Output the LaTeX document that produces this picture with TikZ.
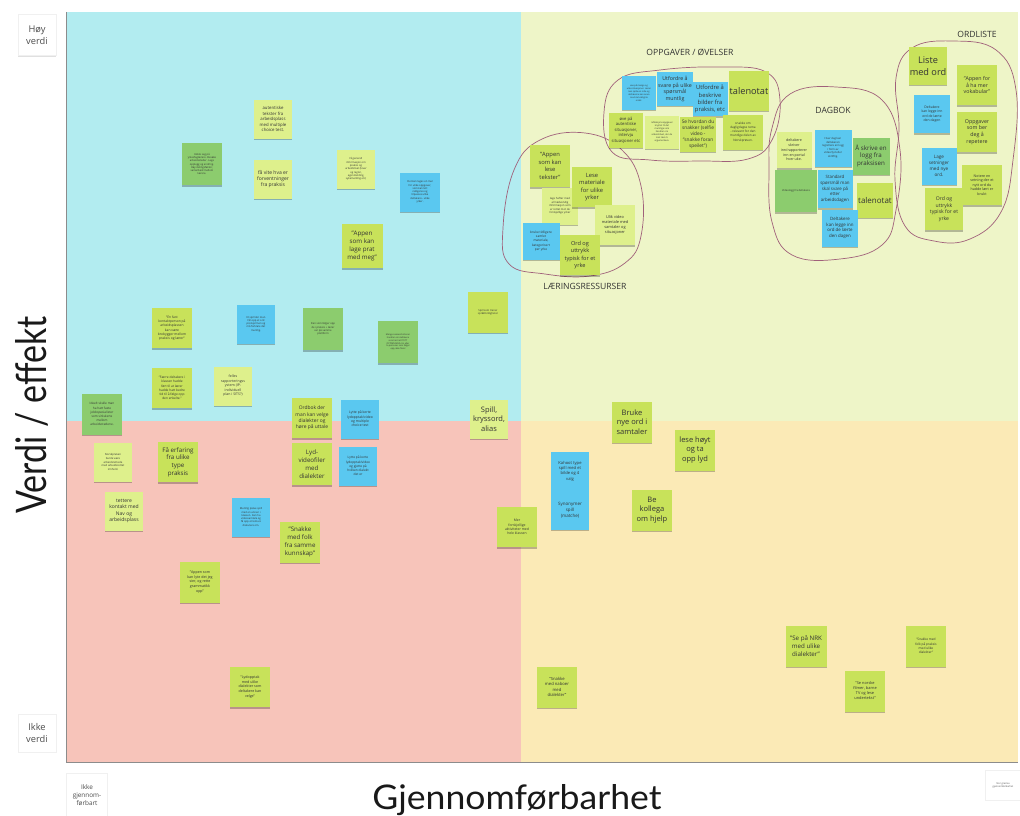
\documentclass[tikz,border=0pt]{standalone}
\usepackage{fontspec}
\usepackage{graphicx}
\setmainfont{Open Sans}
\newfontfamily\axisfont{Lato}
\usetikzlibrary{shadows}
\definecolor{qTL}{HTML}{B2ECF0}
\definecolor{qTR}{HTML}{EEF5C8}
\definecolor{qBL}{HTML}{F7C4BA}
\definecolor{qBR}{HTML}{FBEAB6}
\definecolor{cLime}{HTML}{C8E25A}
\definecolor{cPale}{HTML}{DEF08C}
\definecolor{cGreen}{HTML}{8CCC6E}
\definecolor{cBlue}{HTML}{5AC8F0}
\definecolor{cBlob}{HTML}{A0607A}
\definecolor{cInk}{HTML}{333333}
\tikzset{
  note/.style={rectangle, fill=#1, minimum width=38, minimum height=39,
    inner sep=1, align=center, text=cInk,
    drop shadow={shadow xshift=0pt, shadow yshift=-1.8pt, opacity=.25, fill=black}},
  lime/.style={note=cLime}, pale/.style={note=cPale},
  grn/.style={note=cGreen}, blu/.style={note=cBlue},
  fz/.style 2 args={font=\fontsize{#1}{#2}\selectfont},
  ft/.style={fz={2.6}{3.3}}, fs/.style={fz={3.4}{4.3}},
  fm/.style={fz={4.6}{5.9}}, fb/.style={fz={6.2}{7.8}},
  fl/.style={fz={7.5}{9.4}}, fx/.style={fz={9.2}{11.5}},
  sz/.style 2 args={minimum width=#1, minimum height=#2},
  blob/.style={draw=cBlob, line width=0.7pt},
  title/.style={font=\fontsize{8.6}{10}\selectfont, text=cInk},
  corner/.style={fill=white, draw=black!6, align=center, text=black!70, inner sep=1,
    drop shadow={shadow xshift=0pt, shadow yshift=-1.2pt, opacity=.12, fill=black}}
}
\begin{document}
\begin{tikzpicture}[x=1pt, y=-1pt]
\useasboundingbox (0,0) rectangle (1020,816);
\fill[white] (0,0) rectangle (1020,816);
% quadrants
\fill[qTL] (66,12) rectangle (521,421);
\fill[qTR] (521,12) rectangle (1018,421);
\fill[qBL] (66,421) rectangle (521,762);
\fill[qBR] (521,421) rectangle (1018,762);
\draw[black!45, line width=0.6pt] (66,12) -- (66,762) -- (1018,762);

% axis titles
\node[rotate=90, text=black!90] (yaxis) at (32,415) {\axisfont\resizebox{197pt}{31pt}{Verdi / effekt}};
\node[anchor=base, text=black!90] (xaxis) at (517,809) {\axisfont\resizebox{289pt}{25pt}{Gjennomførbarhet}};

% corner labels
\node[corner, sz={38}{41}, fz={9.3}{11.6}] (hoy) at (37,35) {Høy\\verdi};
\node[corner, sz={38}{38}, fz={9.3}{11.6}] (ikke) at (37,733) {Ikke\\verdi};
\node[corner, sz={41}{43}, fz={6.4}{8}] (ikkeg) at (87,795) {Ikke\\gjennom-\\førbart};
\node[corner, sz={35}{30}, fz={2.4}{3}] (stor) at (1003,785) {Stor grad av\\gjennomførbarhet};

% blobs around groups
\draw[blob] plot[smooth cycle, tension=0.7] coordinates {(604,112) (618,80) (660,70) (720,67) (766,72) (780,100) (772,140) (748,159) (700,161) (650,160) (612,152)};
\draw[blob] plot[smooth cycle, tension=0.7] coordinates {(772,128) (790,94) (836,87) (882,100) (900,150) (896,210) (882,245) (840,259) (792,255) (772,222) (769,170)};
\draw[blob] plot[smooth cycle, tension=0.7] coordinates {(896,78) (912,48) (952,41) (996,50) (1016,90) (1013,160) (1001,212) (970,239) (934,241) (905,226) (895,180) (899,128)};
\draw[blob] plot[smooth cycle, tension=0.7] coordinates {(503,228) (514,170) (540,140) (585,133) (622,150) (641,186) (641,236) (625,263) (590,276) (545,274) (509,264)};

% group titles
\node[title] (tOpp) at (690,52) {OPPGAVER / ØVELSER};
\node[title] (tDag) at (833,110) {DAGBOK};
\node[title] (tOrd) at (977,34) {ORDLISTE};
\node[title] (tLaer) at (585,286) {LÆRINGSRESSURSER};

% ---- high value, low feasibility
\node[grn, ft, sz={40}{42}] (koble) at (202,164) {Koble seg på\\yrkesfaglærere. Besøke\\arbeidssteder. Lage\\opplegg og endring.\\Høy delingsfaktor,\\samarbeid mellom\\lærere.};
\node[pale, fz={4.3}{5.5}] (autentiske) at (273,119) {autentiske\\tekster fra\\arbeidsplass\\med multiple\\choice test.};
\node[pale, fz={5}{6.4}] (favite) at (273,179) {få vite hva er\\forventninger\\fra praksis};
\node[pale, ft] (generell) at (356,169) {få generell\\informasjon om\\praksis og\\arbeidslivet (lover\\og regler,\\egenmelding,\\sykemelding etc)};
\node[blu, ft, sz={40}{39}] (mal) at (420,192) {Det kan lages en mal\\for ulike oppgaver,\\som kan lett\\redigeres og\\tilpasses ulike\\deltakere - ulike\\yrker.};
\node[lime, fb, sz={41}{44}] (prat) at (362,246) {"Appen\\som kan\\lage prat\\med meg"};
\node[lime, fz={3.3}{4.3}, sz={40}{40}] (kontakt) at (172,328) {"En fast\\kontaktperson på\\arbeidsplassen\\kan være\\brobygger mellom\\praksis og lærer"};
\node[blu, ft] (etspill) at (256,324) {Et spill der man\\får opp et ord\\på skjermen og\\må forklare det\\muntlig.};
\node[grn, ft, sz={40}{42}] (densom) at (323,329) {Den som følger opp\\de i praksis + lærer\\var på samme\\plattform};
\node[grn, fz={2.2}{2.9}, sz={40}{42}] (mange) at (398,342) {Mange suksesshistorier\\handler om deltakere\\som har hatt TETT\\OPPFØLGING. En eller\\to personer som følger\\opp, ikke flere!};
\node[lime, ft, sz={40}{41}] (trener) at (488,312) {Spill som trener\\språkferdigheter};
\node[lime, fz={3.2}{4.2}, sz={40}{40}] (faerre) at (172,388) {"Færre deltakere i\\klassen hadde\\ført til at lærer\\hadde hatt bedre\\tid til å følge opp\\den enkelte."};
\node[pale, fz={3.5}{4.5}] (felles) at (233,386) {felles\\rapporteringss\\ystem (IP-\\individuell\\plan i SITS?)};
\node[grn, fz={3.1}{4.1}, sz={40}{41}] (ideelt) at (102,414) {Ideelt skulle man\\ha hatt faste\\jobbspesialister\\som sirkulerte\\mellom\\arbeidsstedene.};
\node[lime, fz={4.9}{6.2}, sz={40}{40}] (ordbok) at (312,418) {Ordbok der\\man kan velge\\dialekter og\\høre på uttale};
\node[blu, fs] (lyttemc) at (360,419) {Lytte på korte\\lydopptak/video\\og multiple\\choice test};
\node[pale, fl] (kryssord) at (489,419) {Spill,\\kryssord,\\alias};

% ---- low value, low feasibility
\node[pale, fz={2.7}{3.6}] (norskprove) at (113,462) {Norskprøven\\burde være\\arbeidsrettede\\med arbeidsrettet\\innhold.};
\node[lime, fb, sz={40}{40}] (erfaring) at (178,462) {Få erfaring\\fra ulike\\type\\praksis};
\node[pale, fz={5}{6.4}] (tettere) at (124,511) {tettere\\kontakt med\\Nav og\\arbeidsplass};
\node[lime, fb, sz={40}{42}] (lydvideo) at (312,464) {Lyd-\\videofiler\\med\\dialekter};
\node[blu, fz={3.2}{4.2}] (lyttedia) at (358,466) {Lytte på korte\\lydopptak/video\\og gjette på\\hvilken dialekt\\det er};
\node[blu, ft] (muntlig) at (251,517) {Muntlig prøve spill\\med en annen i\\klassen. Kan ha\\videosamtale og\\få opp et tema å\\diskutere om.};
\node[lime, fb, sz={40}{41}] (snakkefolk) at (300,542) {"Snakke\\med folk\\fra samme\\kunnskap"};
\node[lime, fz={3.6}{4.6}, sz={40}{41}] (appenlyte) at (200,582) {"Appen som\\kan lyte det jeg\\sier, og rette\\grammatikk\\opp"};
\node[lime, fz={3.6}{4.6}, sz={40}{40}] (lydopptak) at (250,687) {"Lydopptak\\med ulike\\dialekter som\\deltakere kan\\velge"};
\node[lime, fz={3.4}{4.4}, sz={40}{40}] (mer) at (517,527) {Mer\\forskjellige\\aktiviteter med\\hele klassen};

% ---- low value, high feasibility
\node[lime, fl, sz={40}{41}] (bruke) at (632,422) {Bruke\\nye ord i\\samtaler};
\node[lime, fl, sz={40}{41}] (lesehoyt) at (695,450) {lese høyt\\og ta\\opp lyd};
\node[blu, fz={4.1}{5.3}] (kahoot) at (570,471) {Kahoot type\\spill med et\\bilde og 4\\valg};
\node[blu, fz={4.5}{5.8}] (synonym) at (570,510) {Synonymer\\spill\\(matche)};
\node[lime, fl, sz={40}{41}] (kollega) at (652,510) {Be\\kollega\\om hjelp};
\node[lime, fz={4.2}{5.4}, sz={40}{41}] (naboer) at (557,687) {"Snakke\\med naboer\\med\\dialekter"};
\node[lime, fb, sz={41}{41}] (nrk) at (806,646) {"Se på NRK\\med ulike\\dialekter"};
\node[lime, fz={3.9}{5}, sz={40}{41}] (filmer) at (865,691) {"Se norske\\filmer, barne\\TV og lese\\undertekst"};
\node[lime, fz={3.2}{4.2}, sz={40}{41}] (praksisdia) at (926,646) {"Snakke med\\folk på praksis\\med ulike\\dialekter"};

% ---- OPPGAVER / ØVELSER
\node[blu, fz={2.2}{2.9}, sz={34}{33}] (o1) at (639,93) {øve på mange og\\ulike situasjoner. Lærer\\kan spille en rolle og\\deltakerne kan svare\\med det viktigste\\ordet.};
\node[blu, fz={5.3}{6.7}, sz={36}{33}] (o2) at (675,89) {Utfordre å\\svare på ulike\\spørsmål\\muntlig};
\node[blu, fz={5.8}{7.3}, sz={35}{34}] (o3) at (710,99) {Utfordre å\\beskrive\\bilder fra\\praksis, etc};
\node[lime, fx, sz={39}{39}] (o4) at (749,91) {talenotat};
\node[lime, fz={4.2}{5.4}, sz={34}{35}] (o5) at (626,130) {øve på\\autentiske\\situasjoner,\\intervju\\situasjoner etc};
\node[pale, fz={2.3}{3}, sz={34}{33}] (o6) at (662,132) {refleksjonsoppgaver\\knyttet til det\\muntlige som\\handler om\\arbeidslivet, der de\\kan lære å\\argumentere.};
\node[lime, fz={4.8}{6.1}, sz={36}{35}] (o7) at (698,134) {Se hvordan du\\snakker (selfie\\video -\\"snakke foran\\speilet")};
\node[lime, fz={3.1}{4.1}, sz={40}{35}] (o8) at (743,132) {snakke om\\dagligdagse tema\\- relevant for den\\muntlige delen av\\Norskprøven.};

% ---- DAGBOK
\node[pale, fz={3.6}{4.7}, sz={35}{36}] (d1) at (794,150) {deltakere\\skriver\\inn/rapporterer\\inn en portal\\hver uke.};
\node[blu, fz={2.7}{3.5}, sz={37}{37}] (d2) at (833,148) {Hver dag kan\\deltakeren\\registrere en logg\\i form av\\video/lyd eller\\skriftlig.};
\node[grn, fb, sz={37}{37}] (d3) at (871,156) {Å skrive en\\logg fra\\praksisen};
\node[grn, fz={2.6}{3.3}, sz={42}{42}] (d4) at (796,191) {Videologg fra deltakere};
\node[blu, fz={4.4}{5.7}, sz={35}{38}] (d5) at (835,189) {Standard\\spørsmål man\\skal svare på\\etter\\arbeidsdagen};
\node[lime, fz={8}{10}, sz={35}{35}] (d6) at (875,200) {talenotat};
\node[blu, fz={4.4}{5.7}, sz={36}{37}] (d7) at (840,228) {Deltakere\\kan legge inn\\ord de lærte\\den dagen};

% ---- ORDLISTE
\node[lime, fx, sz={37}{37}] (w1) at (928,66) {Liste\\med ord};
\node[lime, fz={5.3}{6.8}, sz={40}{40}] (w2) at (977,85) {"Appen for\\å ha mer\\vokabular"};
\node[blu, fz={3.4}{4.4}, sz={36}{38}] (w3) at (932,114) {Deltakere\\kan legge inn\\ord de lærte\\den dagen};
\node[lime, fz={5.3}{6.8}, sz={40}{40}] (w4) at (977,132) {Oppgaver\\som ber\\deg å\\repetere};
\node[blu, fz={4.6}{5.9}, sz={35}{37}] (w5) at (939,166) {Lage\\setninger\\med nye\\ord.};
\node[lime, fz={3.6}{4.6}, sz={40}{40}] (w6) at (982,185) {Notere en\\setning der et\\nytt ord du\\hadde lært er\\brukt};
\node[lime, fz={5.1}{6.6}, sz={38}{42}] (w7) at (944,209) {Ord og\\uttrykk\\typisk for et\\yrke};

% ---- LÆRINGSRESSURSER
\node[lime, fz={5.8}{7.4}, sz={40}{42}] (l1) at (550,166) {"Appen\\som kan\\lese\\tekster"};
\node[pale, fz={2.7}{3.5}, sz={36}{37}] (l3) at (560,206) {lage hefter med\\all nødvendig\\informasjon som\\er rettet mot de\\forskjellige yrker};
\node[lime, fz={5.8}{7.4}, sz={40}{40}] (l2) at (592,187) {Lese\\materiale\\for ulike\\yrker};
\node[pale, fz={3.9}{5}, sz={40}{40}] (l4) at (615,225) {Ulik video\\materiale med\\samtaler og\\situasjoner};
\node[blu, fz={3.2}{4.2}, sz={37}{37}] (l5) at (541,241) {bruke tidligere\\samlet\\materiale,\\kategorisert\\per yrke};
\node[lime, fz={5.6}{7.2}, sz={40}{40}] (l6) at (580,255) {Ord og\\uttrykk\\typisk for et\\yrke};
\end{tikzpicture}
\end{document}
